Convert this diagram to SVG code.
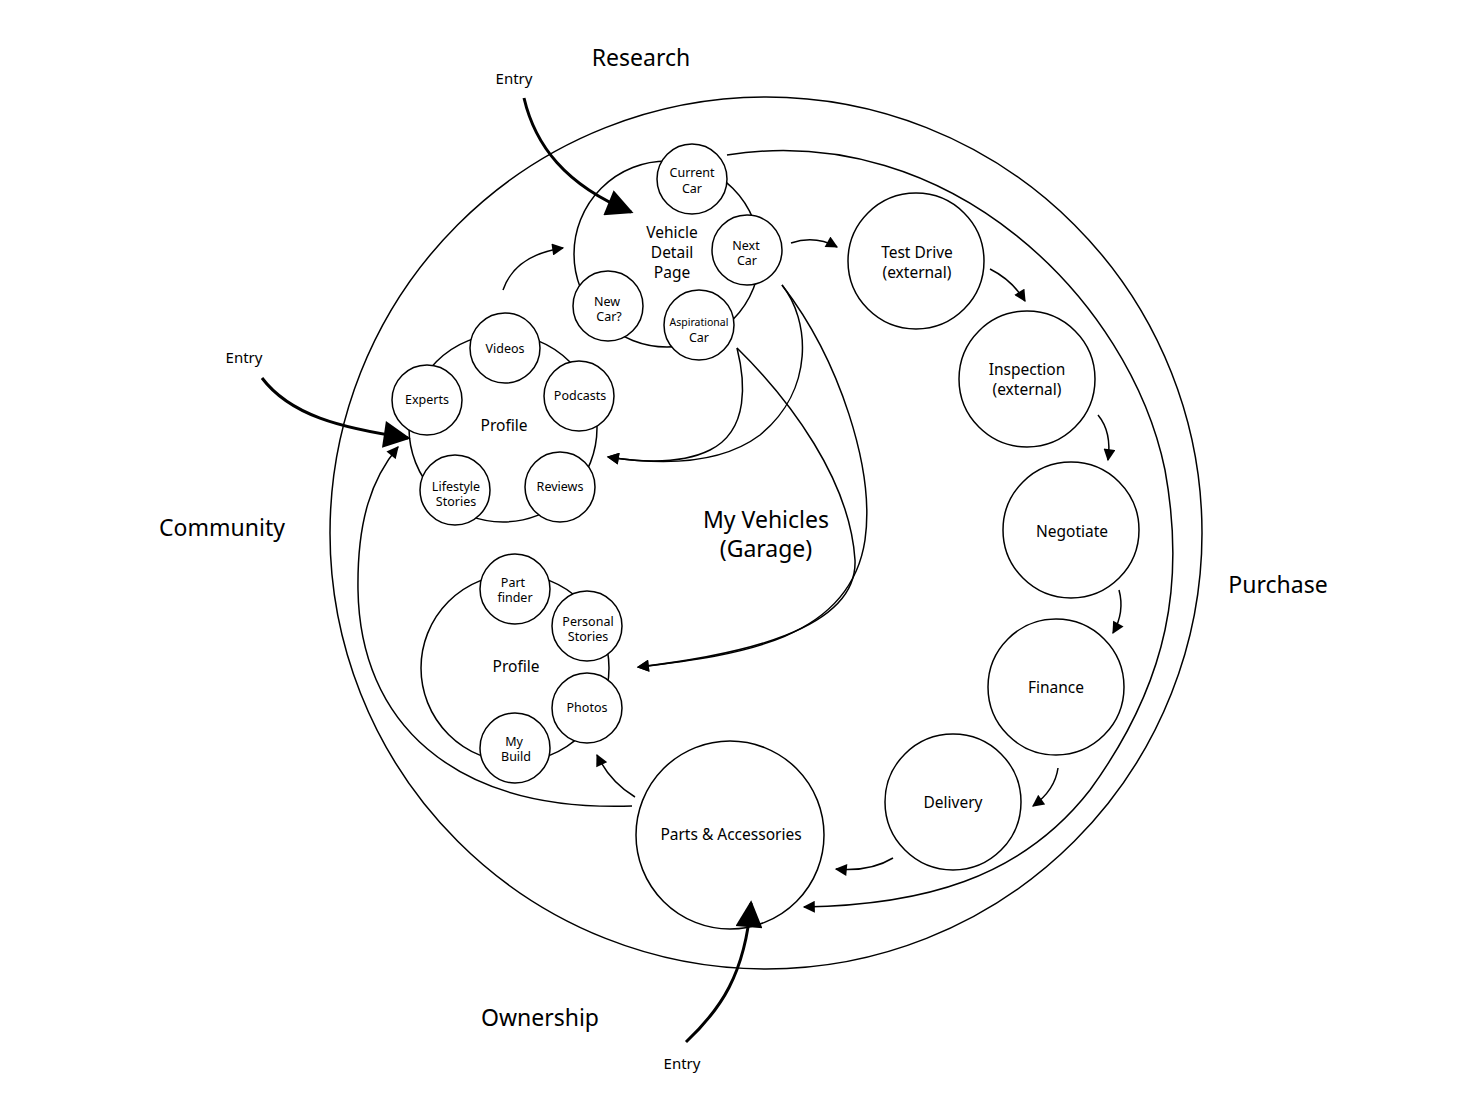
<svg xmlns="http://www.w3.org/2000/svg" width="1484" height="1112" viewBox="0 0 1484 1112">
<style>
  .c { fill: #fff; stroke: #000; stroke-width: 1.5; }
  .bg { fill: none; stroke: #000; stroke-width: 1.5; }
  .t { font-family: "Noto Sans", "Open Sans", sans-serif; fill: #000; text-anchor: middle; }
  .s { font-size: 12.5px; }
  .xs { font-size: 10.5px; }
  .m { font-size: 15.5px; }
  .l { font-size: 23px; }
  .e { font-size: 15px; }
  .ln { fill: none; stroke: #000; stroke-width: 1.5; }
  .thick { fill: none; stroke: #000; stroke-width: 3; }
</style>
<defs>
  <marker id="a" viewBox="0 0 10 10" refX="9" refY="5" markerWidth="13" markerHeight="12" markerUnits="userSpaceOnUse" orient="auto">
    <path d="M0,0 L10,5 L0,10 z" fill="#000"/>
  </marker>
  <marker id="b" viewBox="0 0 10 10" refX="9" refY="5" markerWidth="28" markerHeight="27" markerUnits="userSpaceOnUse" orient="auto">
    <path d="M0,0 L10,5 L0,10 z" fill="#000"/>
  </marker>
</defs>
<rect width="1484" height="1112" fill="#fff"/>

<g id="outer-ring">
  <circle class="bg" cx="766" cy="533" r="436"/>
</g>

<g id="labels">
  <text class="t l" x="641" y="66">Research</text>
  <text class="t l" x="222" y="536">Community</text>
  <text class="t l" x="1278" y="593">Purchase</text>
  <text class="t l" x="540" y="1026">Ownership</text>
  <text class="t l" x="766" y="528">My Vehicles</text>
  <text class="t l" x="766" y="557">(Garage)</text>
  <text class="t e" x="514" y="84">Entry</text>
  <text class="t e" x="244" y="363">Entry</text>
  <text class="t e" x="682" y="1069">Entry</text>
</g>

<g id="vehicle-detail-page">
  <circle class="c" cx="667" cy="254" r="93"/>
  <text class="t m" x="672" y="238">Vehicle</text>
  <text class="t m" x="672" y="258">Detail</text>
  <text class="t m" x="672" y="278">Page</text>
</g>
<g id="current-car">
  <circle class="c" cx="692" cy="179" r="35"/>
  <text class="t s" x="692" y="177">Current</text>
  <text class="t s" x="692" y="193">Car</text>
</g>
<g id="next-car">
  <circle class="c" cx="747" cy="250" r="35"/>
  <text class="t s" x="746" y="250">Next</text>
  <text class="t s" x="747" y="265">Car</text>
</g>
<g id="new-car">
  <circle class="c" cx="608" cy="306" r="35"/>
  <text class="t s" x="607" y="306">New</text>
  <text class="t s" x="609" y="321">Car?</text>
</g>
<g id="aspirational-car">
  <circle class="c" cx="699" cy="325" r="35"/>
  <text class="t xs" x="699" y="326">Aspirational</text>
  <text class="t s" x="699" y="342">Car</text>
</g>

<g id="community-profile">
  <circle class="c" cx="503" cy="428" r="94"/>
  <text class="t m" x="504" y="431">Profile</text>
</g>
<g id="videos">
  <circle class="c" cx="505" cy="348" r="35"/>
  <text class="t s" x="505" y="353">Videos</text>
</g>
<g id="experts">
  <circle class="c" cx="427" cy="400" r="35"/>
  <text class="t s" x="427" y="404">Experts</text>
</g>
<g id="podcasts">
  <circle class="c" cx="579" cy="396" r="35"/>
  <text class="t s" x="580" y="400">Podcasts</text>
</g>
<g id="lifestyle-stories">
  <circle class="c" cx="455" cy="490" r="35"/>
  <text class="t s" x="456" y="491">Lifestyle</text>
  <text class="t s" x="456" y="506">Stories</text>
</g>
<g id="reviews">
  <circle class="c" cx="560" cy="487" r="35"/>
  <text class="t s" x="560" y="491">Reviews</text>
</g>

<g id="garage-profile">
  <circle class="c" cx="515" cy="668" r="94"/>
  <text class="t m" x="516" y="672">Profile</text>
</g>
<g id="part-finder">
  <circle class="c" cx="515" cy="589" r="35"/>
  <text class="t s" x="513" y="587">Part</text>
  <text class="t s" x="515" y="602">finder</text>
</g>
<g id="personal-stories">
  <circle class="c" cx="587" cy="626" r="35"/>
  <text class="t s" x="588" y="626">Personal</text>
  <text class="t s" x="588" y="641">Stories</text>
</g>
<g id="photos">
  <circle class="c" cx="587" cy="708" r="35"/>
  <text class="t s" x="587" y="712">Photos</text>
</g>
<g id="my-build">
  <circle class="c" cx="515" cy="748" r="35"/>
  <text class="t s" x="514" y="746">My</text>
  <text class="t s" x="516" y="761">Build</text>
</g>

<g id="test-drive">
  <circle class="c" cx="916" cy="261" r="68"/>
  <text class="t m" x="917" y="258">Test Drive</text>
  <text class="t m" x="917" y="278">(external)</text>
</g>
<g id="inspection">
  <circle class="c" cx="1027" cy="379" r="68"/>
  <text class="t m" x="1027" y="375">Inspection</text>
  <text class="t m" x="1027" y="395">(external)</text>
</g>
<g id="negotiate">
  <circle class="c" cx="1071" cy="530" r="68"/>
  <text class="t m" x="1072" y="537">Negotiate</text>
</g>
<g id="finance">
  <circle class="c" cx="1056" cy="687" r="68"/>
  <text class="t m" x="1056" y="693">Finance</text>
</g>
<g id="delivery">
  <circle class="c" cx="953" cy="802" r="68"/>
  <text class="t m" x="953" y="808">Delivery</text>
</g>
<g id="parts-accessories">
  <circle class="c" cx="730" cy="835" r="94"/>
  <text class="t m" x="731" y="840">Parts &amp; Accessories</text>
</g>

<g id="connectors">
  <path class="ln" d="M727,155 C950,120 1130,300 1165,470 C1185,580 1170,680 1090,790 C1020,880 920,905 804,907" marker-end="url(#a)"/>
  <path class="ln" d="M503,290 Q515,255 563,248" marker-end="url(#a)"/>
  <path class="ln" d="M791,243 Q815,235 837,247" marker-end="url(#a)"/>
  <path class="ln" d="M990,269 Q1012,280 1025,301" marker-end="url(#a)"/>
  <path class="ln" d="M1098,415 Q1112,432 1108,460" marker-end="url(#a)"/>
  <path class="ln" d="M1119,590 Q1125,612 1113,633" marker-end="url(#a)"/>
  <path class="ln" d="M1058,768 Q1055,790 1033,806" marker-end="url(#a)"/>
  <path class="ln" d="M893,858 Q870,872 836,869" marker-end="url(#a)"/>
  <path class="ln" d="M635,797 Q610,782 597,755" marker-end="url(#a)"/>
  <path class="ln" d="M632,806 C450,812 360,720 358,590 C357,520 372,478 398,447" marker-end="url(#a)"/>
  <path class="ln" d="M782,285 C810,320 815,390 760,435 C720,465 660,465 608,457" marker-end="url(#a)"/>
  <path class="ln" d="M782,285 C840,360 875,470 865,540 C850,640 740,655 638,667" marker-end="url(#a)"/>
  <path class="ln" d="M737,348 C745,380 750,430 710,450 C680,465 640,462 608,457" marker-end="url(#a)"/>
  <path class="ln" d="M737,348 C790,400 850,480 855,560 C858,630 740,655 638,667" marker-end="url(#a)"/>
  <path class="thick" d="M524,98 C535,145 565,185 631,212" marker-end="url(#b)"/>
  <path class="thick" d="M262,378 C290,415 340,428 408,438" marker-end="url(#b)"/>
  <path class="thick" d="M686,1042 C720,1010 745,975 751,903" marker-end="url(#b)"/>
</g>
</svg>
